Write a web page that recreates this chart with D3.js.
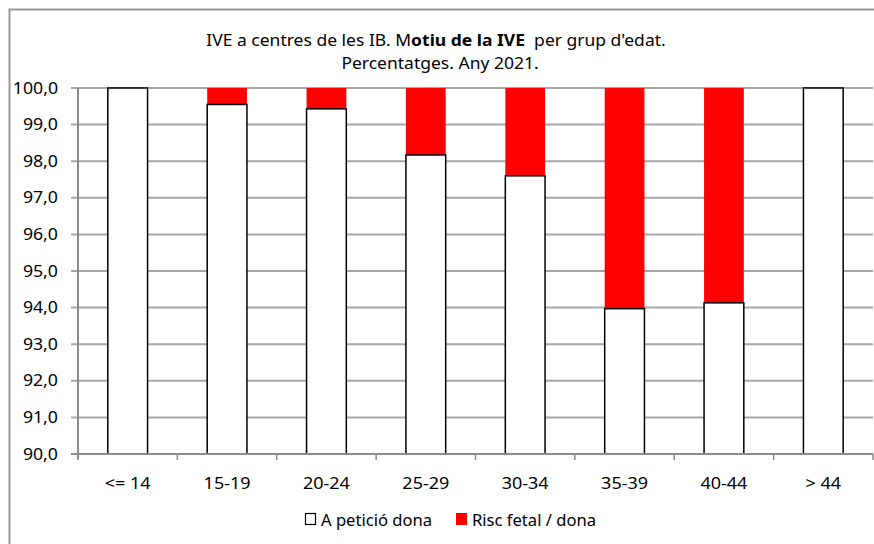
<!DOCTYPE html>
<html>
<head>
<meta charset="utf-8">
<script src="https://cdn.jsdelivr.net/npm/d3@7"></script>
<style>
  body { margin: 0; background: #fff; }
  svg { font-family: "Noto Sans", "Open Sans", sans-serif; }
</style>
</head>
<body>
<svg id="chart" width="874" height="544"></svg>
<script>
const categories = ["<= 14", "15-19", "20-24", "25-29", "30-34", "35-39", "40-44", "> 44"];
const peticio = [100, 99.55, 99.43, 98.17, 97.6, 93.97, 94.13, 100];
const risc = peticio.map(v => +(100 - v).toFixed(2));
const yTicks = [90, 91, 92, 93, 94, 95, 96, 97, 98, 99, 100];
const seriesNames = ["A petició dona", "Risc fetal / dona"];

const svg = d3.select("#chart");
const margin = { left: 78, right: 1, top: 88, bottom: 90 };
const width = 874, height = 544;

// the source renders its text a little wider than normal, so stretch it
function placeText(sel, x, y, size, sx) {
  return sel
    .attr("transform", (d, i) => `translate(${typeof x === "function" ? x(d, i) : x},${typeof y === "function" ? y(d, i) : y}) scale(${sx},1)`)
    .style("font-size", size + "px");
}

// outer frame of the chart object
svg.append("rect")
  .attr("x", 9.5).attr("y", 9.5)
  .attr("width", 880).attr("height", 560)
  .attr("fill", "none").attr("stroke", "#999").attr("stroke-width", 2);

const x = d3.scaleBand()
  .domain(categories)
  .range([margin.left, width - margin.right])
  .paddingInner(0.6).paddingOuter(0.3);

const y = d3.scaleLinear()
  .domain([90, 100])
  .range([height - margin.bottom, margin.top]);

// gridlines
svg.append("g")
  .selectAll("line")
  .data(yTicks)
  .join("line")
  .attr("x1", margin.left - 7).attr("x2", width - margin.right)
  .attr("y1", d => y(d)).attr("y2", d => y(d))
  .attr("stroke", "#a6a6a6").attr("stroke-width", 2);

// y labels
svg.append("g")
  .selectAll("text")
  .data(yTicks)
  .join("text")
  .call(placeText, 58, d => y(d) + 5.5, 15.4, 1.15)
  .attr("text-anchor", "end")
  .attr("fill", "#000")
  .text(d => d3.format(".1f")(d).replace(".", ","));

// stacked bars
const bars = svg.append("g");
bars.selectAll("rect.red")
  .data(categories)
  .join("rect")
  .attr("class", "red")
  .attr("x", d => x(d))
  .attr("width", x.bandwidth())
  .attr("y", (d, i) => y(peticio[i] + risc[i]))
  .attr("height", (d, i) => y(peticio[i]) - y(peticio[i] + risc[i]))
  .attr("fill", "#ff0000");

bars.selectAll("rect.white")
  .data(categories)
  .join("rect")
  .attr("class", "white")
  .attr("x", d => x(d))
  .attr("width", x.bandwidth())
  .attr("y", (d, i) => y(peticio[i]))
  .attr("height", (d, i) => y(90) - y(peticio[i]))
  .attr("fill", "#fff")
  .attr("stroke", "#000").attr("stroke-width", 1.5);

// y axis line
svg.append("line")
  .attr("x1", margin.left).attr("x2", margin.left)
  .attr("y1", y(100)).attr("y2", y(90) + 5)
  .attr("stroke", "#8c8c8c").attr("stroke-width", 2);

// x axis line + ticks
svg.append("line")
  .attr("x1", margin.left - 7).attr("x2", width - margin.right)
  .attr("y1", y(90)).attr("y2", y(90))
  .attr("stroke", "#8c8c8c").attr("stroke-width", 2);

const step = x.step();
const boundaries = d3.range(categories.length + 1).map(i => margin.left + i * step);
svg.append("g")
  .selectAll("line")
  .data(boundaries)
  .join("line")
  .attr("x1", d => Math.min(d, width - 1)).attr("x2", d => Math.min(d, width - 1))
  .attr("y1", y(90)).attr("y2", y(90) + 6)
  .attr("stroke", "#8c8c8c").attr("stroke-width", 1.5);

svg.append("g")
  .selectAll("text")
  .data(categories)
  .join("text")
  .call(placeText, d => x(d) + x.bandwidth() / 2, 489, 16.2, 1.11)
  .attr("text-anchor", "middle")
  .text(d => d);

// title
const title = svg.append("text")
  .call(placeText, 436, 46, 15.5, 1.13)
  .attr("text-anchor", "middle")
  .attr("xml:space", "preserve");
title.append("tspan").text("IVE a centres de les IB. M");
title.append("tspan").attr("font-weight", "bold").text("otiu de la IVE");
title.append("tspan").text("  per grup d'edat.");

svg.append("text")
  .call(placeText, 440, 69, 15.5, 1.13)
  .attr("text-anchor", "middle")
  .text("Percentatges. Any 2021.");

// legend
const legend = svg.append("g");
const legendX = [305, 456];
legend.selectAll("rect")
  .data(seriesNames)
  .join("rect")
  .attr("x", (d, i) => legendX[i] + (i === 0 ? 0.5 : 0))
  .attr("y", (d, i) => i === 0 ? 513.5 : 513)
  .attr("width", (d, i) => i === 0 ? 10 : 11)
  .attr("height", (d, i) => i === 0 ? 11 : 12)
  .attr("fill", (d, i) => i === 0 ? "#fff" : "#ff0000")
  .attr("stroke", (d, i) => i === 0 ? "#000" : "none")
  .attr("stroke-width", 1.2);
legend.selectAll("text")
  .data(seriesNames)
  .join("text")
  .call(placeText, (d, i) => legendX[i] + 16, 526, 15.5, 1.07)
  .text(d => d);
</script>
</body>
</html>
